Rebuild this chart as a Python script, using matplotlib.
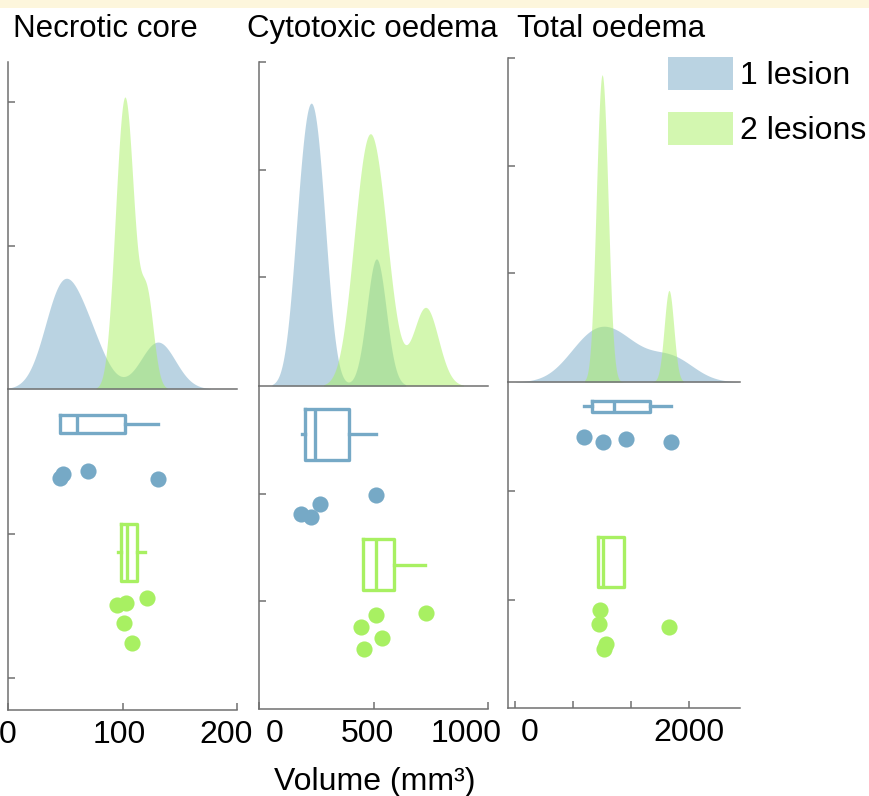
import matplotlib
matplotlib.use('Agg')
import matplotlib.pyplot as plt
import matplotlib.transforms as mtransforms
from matplotlib.patches import Patch, Rectangle
import seaborn as sns

# volumes (mm3), one list per group
nec_one = [45, 48, 70, 131]
nec_two = [95, 101, 103, 108, 121]
cyto_one = [184, 228, 268, 513]
cyto_two = [447, 460, 509, 539, 728]
total_one = [793, 1011, 1276, 1793]
total_two = [965, 977, 1023, 1046, 1770]

# box stats: whislo, q1, med, q3, whishi
nec_one_box = [45, 45, 60, 102, 131]
nec_two_box = [96, 99, 104, 113, 120]
cyto_one_box = [189, 202, 246, 395, 513]
cyto_two_box = [452, 452, 509, 588, 724]
total_one_box = [793, 885, 1138, 1551, 1793]
total_two_box = [954, 954, 1011, 1252, 1252]

# vertical jitter of the dots (fraction of the lower panel, from the top)
nec_one_rows = [0.277, 0.265, 0.255, 0.280]
nec_two_rows = [0.673, 0.729, 0.667, 0.791, 0.651]
cyto_one_rows = [0.396, 0.406, 0.365, 0.337]
cyto_two_rows = [0.746, 0.814, 0.709, 0.780, 0.703]
total_one_rows = [0.169, 0.184, 0.175, 0.184]
total_two_rows = [0.742, 0.699, 0.819, 0.804, 0.752]

titles = ['Necrotic core', 'Cytotoxic oedema', 'Total oedema']
legend_labels = ['1 lesion', '2 lesions']

BLUE = '#76a9c6'
GREEN = '#a8f062'
SPINE = '#707070'

W, H = 869, 796
plt.rcParams['font.family'] = ['Liberation Sans', 'DejaVu Sans']

fig = plt.figure(figsize=(W / 100, H / 100), dpi=100)
fig.add_artist(Rectangle((0, 1 - 8 / H), 1, 8 / H, transform=fig.transFigure,
                         facecolor='#fdf6dc', edgecolor='none', zorder=0))


def fig_box(x0, y0, x1, y1):
    return [x0 / W, 1 - y1 / H, (x1 - x0) / W, (y1 - y0) / H]


def to_stats(b):
    return dict(whislo=b[0], q1=b[1], med=b[2], q3=b[3], whishi=b[4], fliers=[])


panels = [
    dict(one=nec_one, two=nec_two, one_box=nec_one_box, two_box=nec_two_box,
         one_rows=nec_one_rows, two_rows=nec_two_rows,
         px=(8, 237), py=(62, 389, 710), xlim=(0, 200),
         bw=(0.5, 0.85), peak=0.893,
         top_ticks=[0.437, 0.878], bot_ticks=[0.452, 0.900],
         box_pos=(0.109, 0.509), box_w=(0.056, 0.178),
         xticks=[0, 100, 200], xlabels=['0', '100', '200'], xoff=[0, -3, -11],
         title_x=13),
    dict(one=cyto_one, two=cyto_two, one_box=cyto_one_box, two_box=cyto_two_box,
         one_rows=cyto_one_rows, two_rows=cyto_two_rows,
         px=(259, 488), py=(62, 386, 709), xlim=(0, 1000),
         bw=(0.38, 0.67), peak=0.873,
         top_ticks=[0.336, 0.667, 1.0], bot_ticks=[0.334, 0.666],
         box_pos=(0.150, 0.553), box_w=(0.158, 0.158),
         xticks=[0, 500, 1000], xlabels=['0', '500', '1000'], xoff=[16, -6, -22],
         title_x=247),
    dict(one=total_one, two=total_two, one_box=total_one_box, two_box=total_two_box,
         one_rows=total_one_rows, two_rows=total_two_rows,
         px=(508, 740), py=(58, 382, 708), xlim=(-80, 2586),
         bw=(0.8, 0.22), peak=0.948,
         top_ticks=[0.336, 0.667, 1.0], bot_ticks=[0.334, 0.669],
         box_pos=(0.075, 0.552), box_w=(0.034, 0.153),
         xticks=[0, 667, 1333, 2000], xlabels=['0', '', '', '2000'], xoff=[15, 0, 0, 0],
         title_x=517),
]

for p, title in zip(panels, titles):
    x0, x1 = p['px']
    top, mid, bot = p['py']

    # density clouds
    ax_t = fig.add_axes(fig_box(x0, top, x1, mid))
    sns.kdeplot(x=p['one'], ax=ax_t, fill=True, color=BLUE, alpha=0.5,
                linewidth=0, bw_adjust=p['bw'][0])
    sns.kdeplot(x=p['two'], ax=ax_t, fill=True, color=GREEN, alpha=0.5,
                linewidth=0, bw_adjust=p['bw'][1])
    ytop = ax_t.dataLim.y1 / p['peak']
    ax_t.set_xlim(p['xlim'])
    ax_t.set_ylim(0, ytop)
    ax_t.set_yticks([f * ytop for f in p['top_ticks']])
    ax_t.set_xlabel('')
    ax_t.set_ylabel('')
    ax_t.tick_params(bottom=False, labelbottom=False, labelleft=False,
                     direction='in', length=5, width=1.1, color=SPINE)

    # boxes and dots
    ax_b = fig.add_axes(fig_box(x0, mid, x1, bot))
    for box, pos, w, col in [(p['one_box'], p['box_pos'][0], p['box_w'][0], BLUE),
                             (p['two_box'], p['box_pos'][1], p['box_w'][1], GREEN)]:
        line = dict(color=col, linewidth=2.4)
        ax_b.bxp([to_stats(box)], positions=[pos], widths=[w], orientation='horizontal',
                 showfliers=False, showcaps=False, manage_ticks=False,
                 boxprops=line, whiskerprops=line, medianprops=line)
    ax_b.scatter(p['one'], p['one_rows'], s=135, color=BLUE, linewidths=0, zorder=3)
    ax_b.scatter(p['two'], p['two_rows'], s=135, color=GREEN, linewidths=0, zorder=3)
    ax_b.set_xlim(p['xlim'])
    ax_b.set_ylim(1, 0)
    ax_b.set_yticks(p['bot_ticks'])
    ax_b.set_xticks(p['xticks'])
    ax_b.set_xticklabels(p['xlabels'])
    ax_b.tick_params(labelleft=False, direction='in', length=5, width=1.1,
                     color=SPINE, labelsize=23, pad=7)
    for lab, dx in zip(ax_b.get_xticklabels(), p['xoff']):
        lab.set_transform(lab.get_transform() +
                          mtransforms.ScaledTranslation(dx / 100, 0, fig.dpi_scale_trans))

    for ax in (ax_t, ax_b):
        ax.set_facecolor('none')
        for side in ('top', 'right'):
            ax.spines[side].set_visible(False)
        for side in ('left', 'bottom'):
            ax.spines[side].set_color(SPINE)
            ax.spines[side].set_linewidth(1.1)

    fig.text(p['title_x'] / W, 1 - 37 / H, title, fontsize=22.5, ha='left', va='baseline')

fig.text(375 / W, 1 - 790 / H, 'Volume (mm³)', fontsize=23, ha='center', va='baseline')

handles = [Patch(facecolor=BLUE, alpha=0.5, edgecolor='none'),
           Patch(facecolor=GREEN, alpha=0.5, edgecolor='none')]
fig.legend(handles, legend_labels, loc='upper left', bbox_to_anchor=(668 / W, 1 - 57 / H),
           frameon=False, fontsize=23, handlelength=2.05, handleheight=1.2,
           handletextpad=0.2, labelspacing=0.65, borderpad=0, borderaxespad=0)

fig.savefig('out.png', dpi=100)
